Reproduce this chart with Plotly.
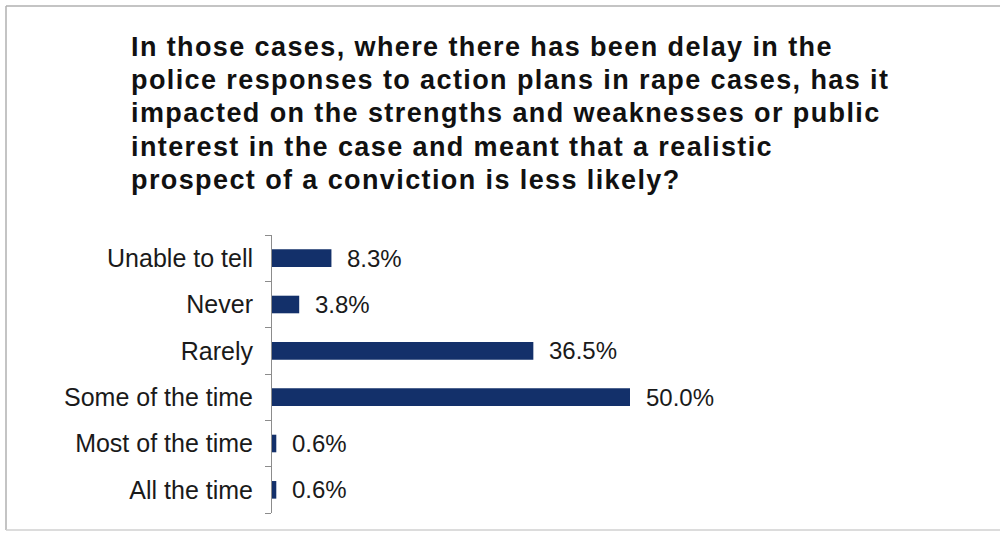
import plotly.graph_objects as go

# Survey responses, listed bottom to top as drawn on the category axis
categories = ["All the time", "Most of the time", "Some of the time", "Rarely", "Never", "Unable to tell"]
percentages = [0.6, 0.6, 50.0, 36.5, 3.8, 8.3]

title_lines = [
    "In those cases, where there has been delay in the",
    "police responses to action plans in rape cases, has it",
    "impacted on the strengths and weaknesses or public",
    "interest in the case and meant that a realistic",
    "prospect of a conviction is less likely?",
]

W, H = 1000, 536
BAR_COLOR = "#13306a"
FONT = "Liberation Sans, Arial, sans-serif"

# Plot area in pixels
left, right, top, bottom = 272, 950, 235, 513
PW, PH = right - left, bottom - top


def px(xp):
    """Pixel x -> paper x (paper spans the plot area)."""
    return (xp - left) / PW


def py(yp):
    """Pixel y (from top) -> paper y."""
    return (bottom - yp) / PH


fig = go.Figure(
    go.Bar(
        x=percentages,
        y=categories,
        orientation="h",
        marker=dict(color=BAR_COLOR, line=dict(width=0)),
        width=0.38,
        hoverinfo="skip",
    )
)

# Value labels placed just past the end of each bar
annotations = []
for cat, val in zip(categories, percentages):
    annotations.append(dict(
        x=val, y=cat, xref="x", yref="y",
        text=f"{val:.1f}%", showarrow=False,
        xanchor="left", yanchor="middle", xshift=14,
        font=dict(family=FONT, size=24, color="#1a1a1a"),
    ))

# Multi-line bold heading with fixed line spacing (slightly tracked out)
for i, line in enumerate(title_lines):
    annotations.append(dict(
        x=px(129), y=py(47 + 33.2 * i), xref="paper", yref="paper",
        text=f"<b><span style='letter-spacing:1.4px'>{line}</span></b>", showarrow=False,
        xanchor="left", yanchor="middle",
        font=dict(family=FONT, size=27, color="#111111"),
    ))

# Thin frame around the chart area
frame = dict(color="#b0b0b0", width=1.5)
shapes = [
    dict(type="line", xref="paper", yref="paper", x0=px(6), x1=px(1000), y0=py(6), y1=py(6), line=frame),
    dict(type="line", xref="paper", yref="paper", x0=px(6), x1=px(6), y0=py(6), y1=py(530), line=frame),
    dict(type="line", xref="paper", yref="paper", x0=px(6), x1=px(1000), y0=py(530), y1=py(530),
         line=dict(color="#d0d0d0", width=1.5)),
]

px_per_pct = (630 - 272) / 50.0
x_max = PW / px_per_pct

fig.update_layout(
    width=W, height=H,
    margin=dict(l=left, r=W - right, t=top, b=H - bottom),
    paper_bgcolor="white", plot_bgcolor="white",
    showlegend=False,
    annotations=annotations,
    shapes=shapes,
    xaxis=dict(range=[0, x_max], visible=False, fixedrange=True),
    yaxis=dict(
        categoryorder="array", categoryarray=categories,
        showline=True, linecolor="#8c8c8c", linewidth=1,
        ticks="outside", tickson="boundaries", ticklen=6, tickcolor="#8c8c8c",
        ticklabelstandoff=13,
        tickfont=dict(family=FONT, size=25, color="#1a1a1a"),
        showgrid=False, zeroline=False, fixedrange=True,
    ),
)

fig.write_html("out.html")
